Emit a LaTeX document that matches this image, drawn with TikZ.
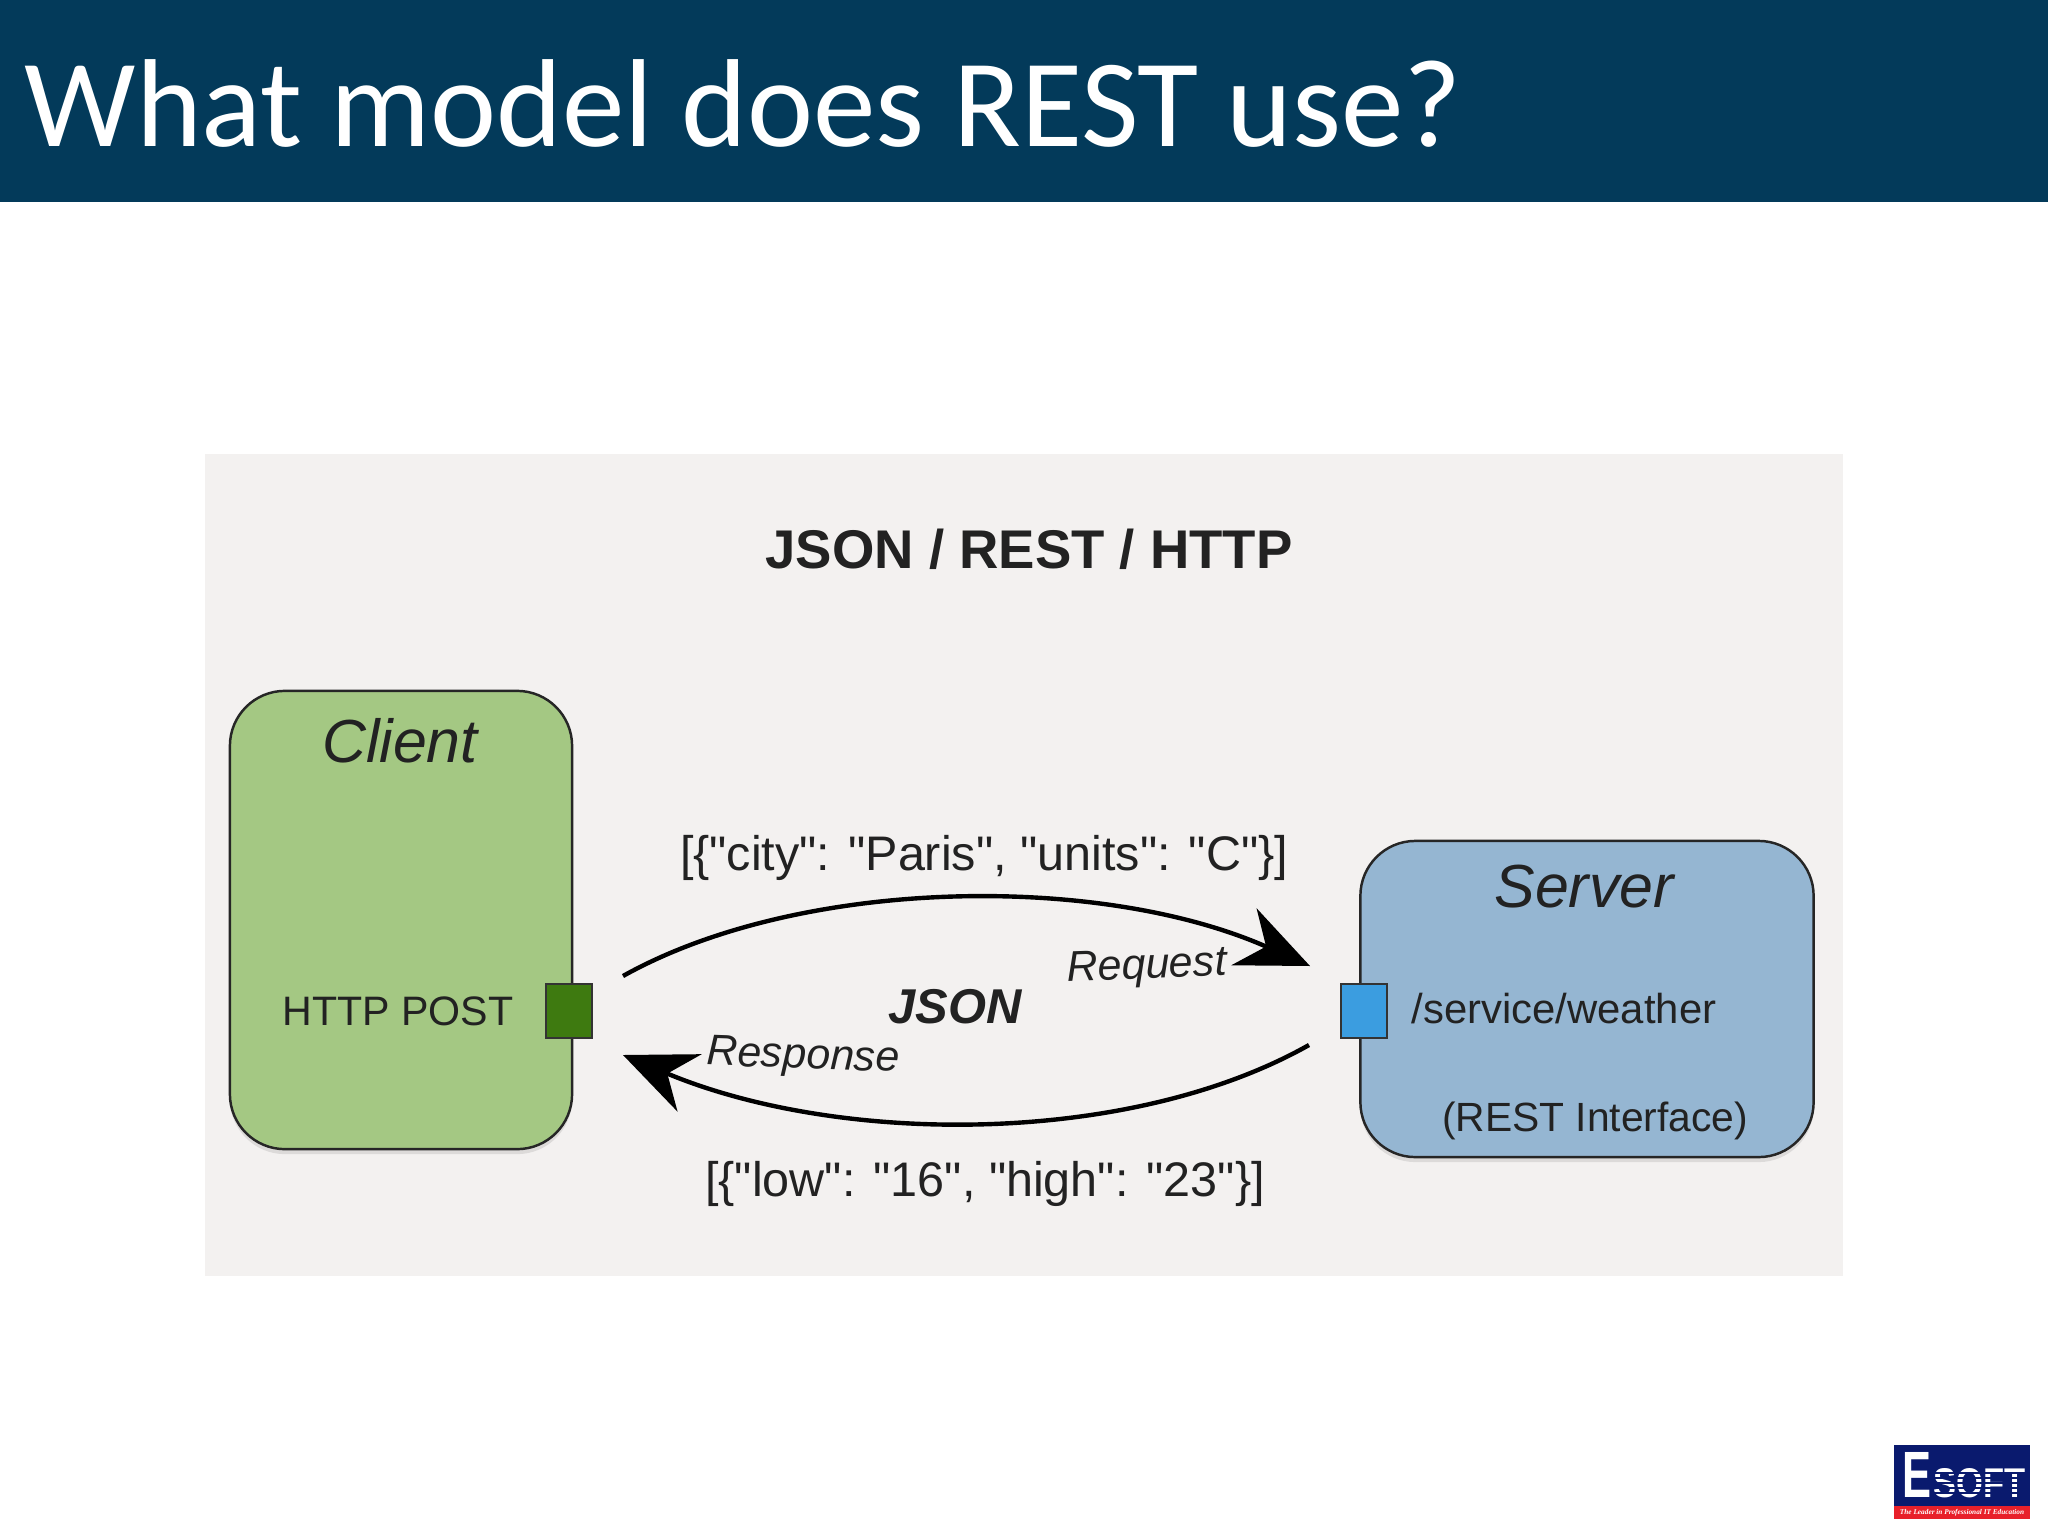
\documentclass[tikz,border=0pt]{standalone}
\usepackage{fontspec}
\setmainfont{Liberation Sans}
\newfontfamily\jsonfont{Liberation Sans}
\newfontfamily\titlefont{Carlito}
\newfontfamily\logofont{Liberation Serif}
\usetikzlibrary{positioning,arrows.meta,shadows}
\definecolor{headerblue}{HTML}{033A5A}
\definecolor{panelgrey}{HTML}{F3F1F0}
\definecolor{clientgreen}{HTML}{A4C883}
\definecolor{servergreyblue}{HTML}{95B6D2}
\definecolor{portgreen}{HTML}{3E7A10}
\definecolor{portblue}{HTML}{3B9DE0}
\definecolor{logonavy}{HTML}{0A1A6E}
\definecolor{logored}{HTML}{E8202A}
\definecolor{inkgrey}{HTML}{222222}
\tikzset{
    box/.style={draw=black!85, line width=0.7pt, rounded corners=0.55cm, inner sep=0pt,
        drop shadow={shadow xshift=0pt, shadow yshift=-0.05cm, opacity=0.2}},
    port/.style={draw=black!80, line width=0.6pt, inner sep=0pt, minimum width=0.46cm, minimum height=0.54cm},
    caption/.style={text=inkgrey, inner sep=0pt, anchor=center},
    flow/.style={line width=1.25pt, black, -{Stealth[length=0.72cm, width=0.62cm, inset=0.24cm]}}
}
\begin{document}
\begin{tikzpicture}[x=0.01cm, y=-0.01cm]
    \useasboundingbox (0,0) rectangle (2048,1536);
    \fill[white] (0,0) rectangle (2048,1536);
    % header
    \fill[headerblue] (0,0) rectangle (2048,202);
    \node[anchor=west, inner sep=0pt, text=white] (title) at (24,103)
        {\titlefont\fontsize{35.6pt}{40pt}\selectfont What model does REST use?};
    % diagram
    \fill[panelgrey] (205,454) rectangle (1843,1276);
    \node[caption] (heading) at (1029,549) {\fontsize{15.5pt}{18pt}\selectfont\bfseries JSON / REST / HTTP};
    \node[box, fill=clientgreen, minimum width=3.42cm, minimum height=4.58cm] (client) at (401,920) {};
    \node[box, fill=servergreyblue, minimum width=4.53cm, minimum height=3.16cm] (server) at (1587,999) {};
    \node[port, fill=portgreen] (client-port) at (569,1011) {};
    \node[port, fill=portblue] (server-port) at (1364,1011) {};
    \node[caption] (client-name) at (400,741) {\fontsize{17.3pt}{20pt}\selectfont\itshape Client};
    \node[caption] (server-name) at (1584,887) {\fontsize{17.3pt}{20pt}\selectfont\itshape Server};
    \node[caption] (verb) at (398,1011) {\fontsize{11.7pt}{14pt}\selectfont HTTP POST};
    \node[caption] (path) at (1564,1009) {\fontsize{11.9pt}{14pt}\selectfont /service/weather};
    \node[caption] (iface) at (1595,1121) {\fontsize{11.6pt}{14pt}\selectfont (REST Interface)};
    % exchange
    \coordinate (req-a) at (623,976);
    \coordinate (req-b) at (1310,966);
    \coordinate (res-a) at (1309,1045);
    \coordinate (res-b) at (623,1055);
    \draw[flow] (req-a) .. controls (800,877) and (1100,873) .. (req-b);
    \draw[flow] (res-a) .. controls (1130,1146) and (840,1146) .. (res-b);
    \node[caption] (req-body) at (984,858) {\jsonfont\fontsize{13.8pt}{16pt}\selectfont [\{"city": "Paris", "units": "C"\}]};
    \node[caption] (res-body) at (985,1184) {\jsonfont\fontsize{13.8pt}{16pt}\selectfont [\{"low": "16", "high": "23"\}]};
    \node[caption, rotate=2] (req-label) at (1147,968) {\fontsize{12.2pt}{14pt}\selectfont\itshape Request};
    \node[caption, rotate=-2] (res-label) at (803,1058) {\fontsize{12.2pt}{14pt}\selectfont\itshape Response};
    \node[caption] (format) at (955,1007) {\fontsize{13.9pt}{16pt}\selectfont\bfseries\itshape JSON};
    % logo
    \fill[logonavy] (1894,1445) rectangle (2030,1506);
    \fill[logored] (1894,1506) rectangle (2030,1519);
    \node[inner sep=0pt, text=white, anchor=north west] (logo-e) at (1902,1452)
        {\resizebox{0.29cm}{0.45cm}{\bfseries E}};
    \node[inner sep=0pt, text=white, anchor=north west] (logo-soft) at (1933,1468)
        {\resizebox{0.92cm}{0.29cm}{\bfseries SOFT}};
    \foreach \y in {1473,1478,1483,1488,1493}
        \draw[logonavy, line width=0.4pt] (1932,\y) -- (2027,\y);
    \node[inner sep=0pt, text=white] (logo-line) at (1962,1513)
        {\resizebox{1.24cm}{!}{\logofont\bfseries\itshape The Leader in Professional IT Education}};
\end{tikzpicture}
\end{document}
